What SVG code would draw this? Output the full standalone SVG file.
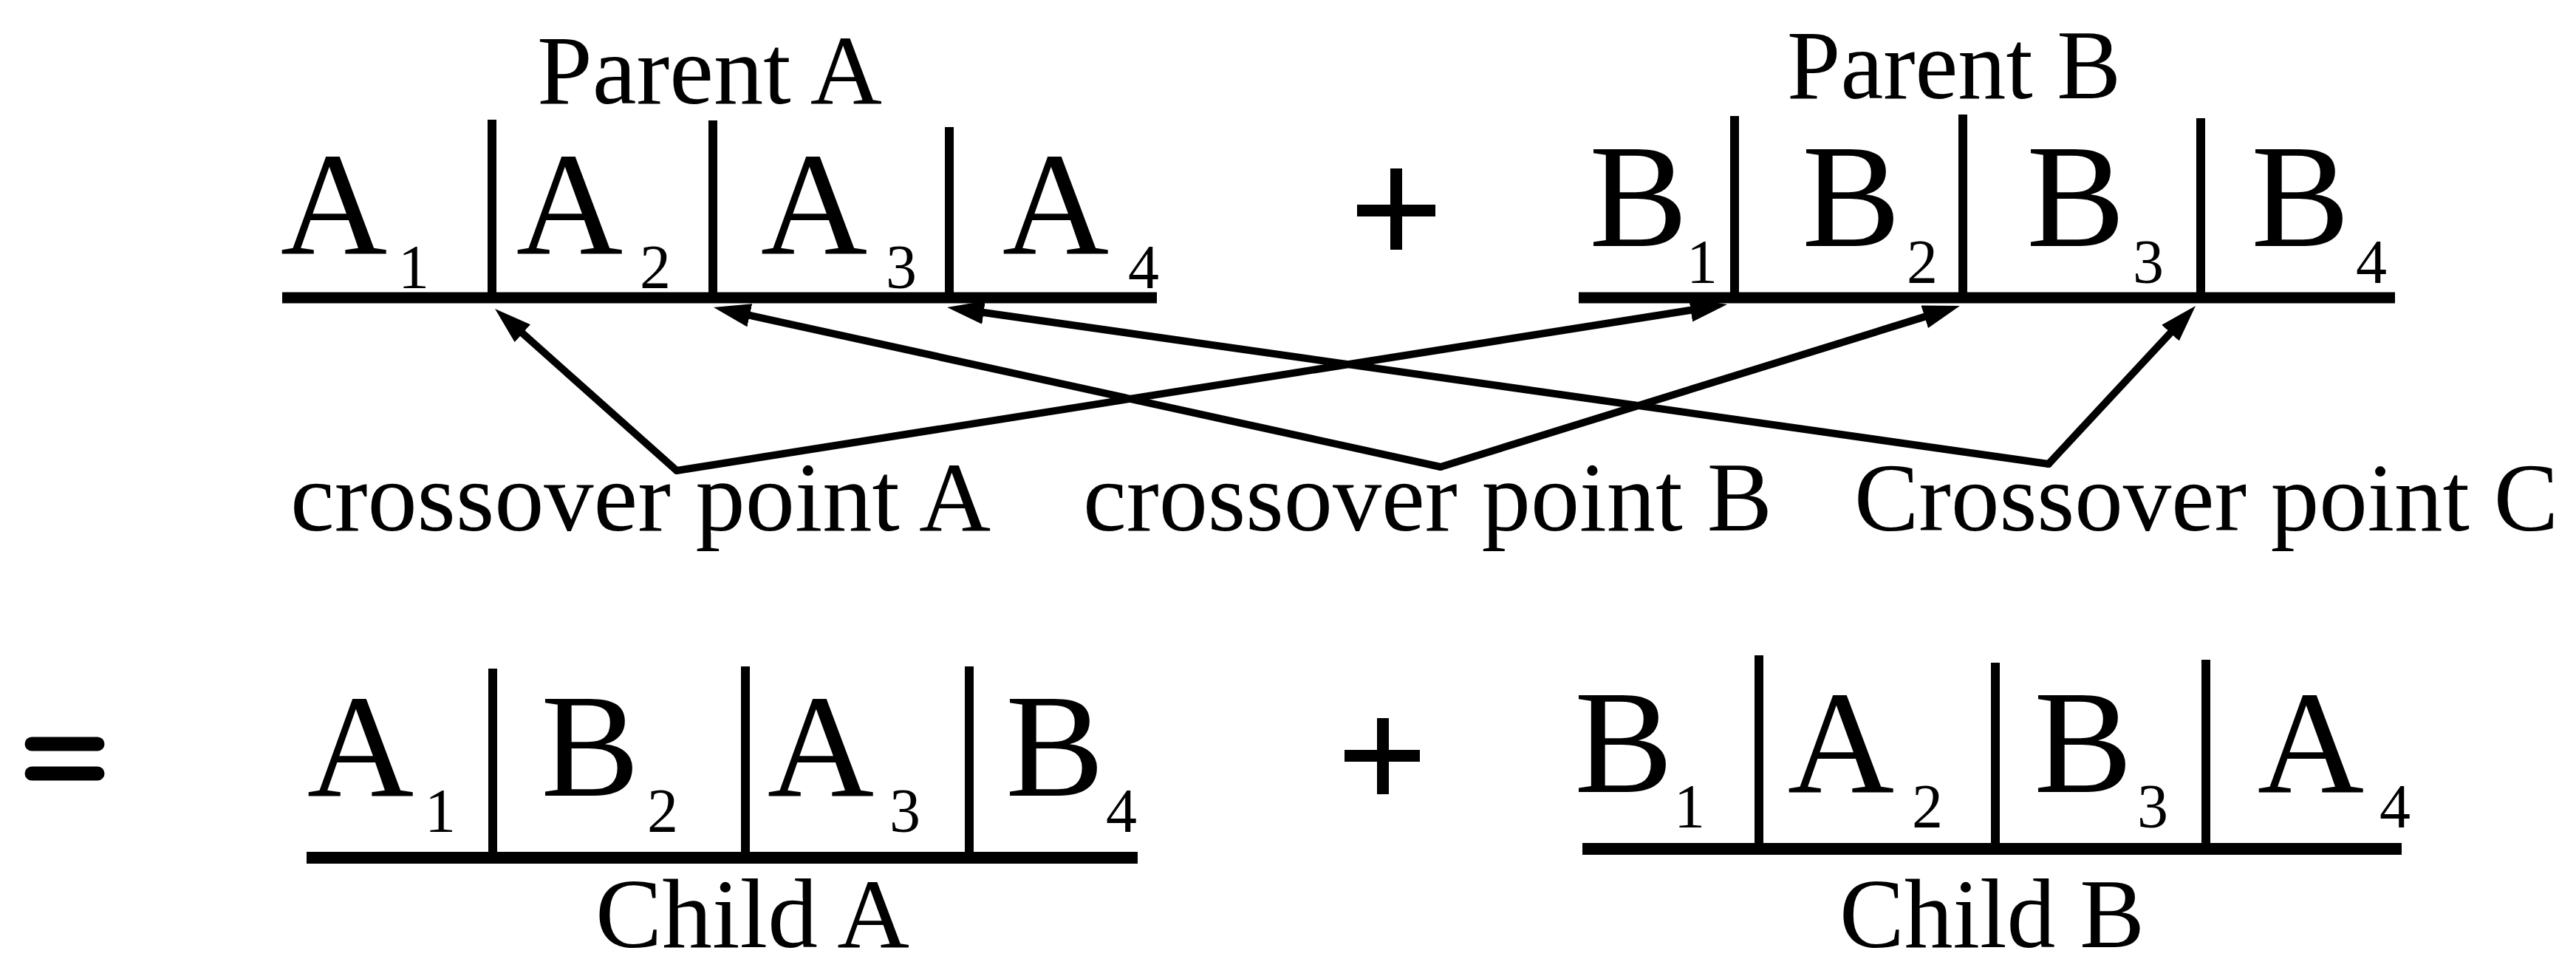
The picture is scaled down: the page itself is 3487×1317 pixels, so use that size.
<svg xmlns="http://www.w3.org/2000/svg" width="3487" height="1317" viewBox="0 0 3487 1317">
<style>
.t{font-family:"Liberation Serif","Times New Roman",serif;fill:#000}
.big{font-size:200px;text-anchor:middle}
.sub{font-size:84px;text-anchor:middle}
.lbl{font-size:134px}
.lblc{font-size:131px}
.bar{stroke:#000;stroke-width:15;fill:none}
.cbar{stroke:#000;stroke-width:16;fill:none}
.dv{stroke:#000;stroke-width:12;fill:none}
.op{stroke:#000;stroke-width:16;fill:none}
.eq{stroke:#000;stroke-width:19;fill:none;stroke-linecap:round}
.arr{stroke:#000;stroke-width:10;fill:none;stroke-linecap:round;marker-end:url(#ah)}
</style>
<defs>
<marker id="ah" viewBox="0 0 50 32" refX="25" refY="16" markerWidth="50" markerHeight="32" markerUnits="userSpaceOnUse" orient="auto">
<path d="M0,0 L50,16 L0,32 z" fill="#000"/>
</marker>
</defs>
<rect width="3487" height="1317" fill="#fff"/>

<g id="parentA">
<text class="t lbl" x="727" y="140" textLength="467" lengthAdjust="spacingAndGlyphs">Parent A</text>
<line class="bar" x1="382" y1="403" x2="1566" y2="403"/>
<line class="dv" x1="666" y1="162" x2="666" y2="403"/>
<line class="dv" x1="965" y1="163" x2="965" y2="403"/>
<line class="dv" x1="1285" y1="172" x2="1285" y2="403"/>
<text class="t big" x="452" y="343">A</text><text class="t sub" x="560" y="390">1</text>
<text class="t big" x="771" y="343">A</text><text class="t sub" x="887" y="390">2</text>
<text class="t big" x="1102" y="343">A</text><text class="t sub" x="1220" y="390">3</text>
<text class="t big" x="1429" y="343">A</text><text class="t sub" x="1548" y="390">4</text>
</g>

<g id="plusTop">
<line class="op" x1="1837" y1="285" x2="1943" y2="285"/>
<line class="op" x1="1890" y1="228" x2="1890" y2="338"/>
</g>

<g id="parentB">
<text class="t lbl" x="2419" y="133" textLength="452" lengthAdjust="spacingAndGlyphs">Parent B</text>
<line class="bar" x1="2137" y1="403" x2="3242" y2="403"/>
<line class="dv" x1="2348" y1="157" x2="2348" y2="403"/>
<line class="dv" x1="2657" y1="155" x2="2657" y2="403"/>
<line class="dv" x1="2979" y1="160" x2="2979" y2="403"/>
<text class="t big" x="2218" y="333">B</text><text class="t sub" x="2304" y="383">1</text>
<text class="t big" x="2506" y="333">B</text><text class="t sub" x="2602" y="383">2</text>
<text class="t big" x="2810" y="333">B</text><text class="t sub" x="2908" y="383">3</text>
<text class="t big" x="3114" y="333">B</text><text class="t sub" x="3210" y="383">4</text>
</g>

<g id="crossoverA">
<text class="t lbl" x="393" y="718" textLength="948" lengthAdjust="spacingAndGlyphs">crossover point A</text>
</g>
<g id="crossoverB">
<text class="t lbl" x="1466" y="718" textLength="933" lengthAdjust="spacingAndGlyphs">crossover point B</text>
</g>
<g id="crossoverC">
<text class="t lblc" x="2510" y="718" textLength="953" lengthAdjust="spacingAndGlyphs">Crossover point C</text>
</g>

<g id="connectors">
<line class="arr" x1="916" y1="637" x2="688.7" y2="434.6"/>
<line class="arr" x1="916" y1="637" x2="2313.3" y2="415.9"/>
<line class="arr" x1="1950" y1="632" x2="990.4" y2="421.4"/>
<line class="arr" x1="1950" y1="632" x2="2629.1" y2="421.4"/>
<line class="arr" x1="2773" y1="628" x2="1306.8" y2="419.5"/>
<line class="arr" x1="2773" y1="628" x2="2955.0" y2="432.3"/>
</g>

<g id="equals">
<line class="eq" x1="43" y1="1007" x2="132" y2="1007"/>
<line class="eq" x1="43" y1="1047" x2="132" y2="1047"/>
</g>

<g id="childA">
<line class="cbar" x1="415" y1="1161" x2="1540" y2="1161"/>
<line class="dv" x1="667" y1="905" x2="667" y2="1161"/>
<line class="dv" x1="1009" y1="902" x2="1009" y2="1161"/>
<line class="dv" x1="1312" y1="902" x2="1312" y2="1161"/>
<text class="t big" x="488" y="1077">A</text><text class="t sub" x="596" y="1126">1</text>
<text class="t big" x="799" y="1077">B</text><text class="t sub" x="897" y="1126">2</text>
<text class="t big" x="1111" y="1077">A</text><text class="t sub" x="1225" y="1126">3</text>
<text class="t big" x="1428" y="1077">B</text><text class="t sub" x="1518" y="1126">4</text>
<text class="t lbl" x="806" y="1282" textLength="425" lengthAdjust="spacingAndGlyphs">Child A</text>
</g>

<g id="plusBottom">
<line class="op" x1="1820" y1="1023" x2="1922" y2="1023"/>
<line class="op" x1="1872" y1="972" x2="1872" y2="1075"/>
</g>

<g id="childB">
<line class="cbar" x1="2142" y1="1149" x2="3251" y2="1149"/>
<line class="dv" x1="2381" y1="887" x2="2381" y2="1149"/>
<line class="dv" x1="2701" y1="897" x2="2701" y2="1149"/>
<line class="dv" x1="2986" y1="893" x2="2986" y2="1149"/>
<text class="t big" x="2198" y="1072">B</text><text class="t sub" x="2287" y="1120">1</text>
<text class="t big" x="2492" y="1072">A</text><text class="t sub" x="2609" y="1120">2</text>
<text class="t big" x="2820" y="1072">B</text><text class="t sub" x="2914" y="1120">3</text>
<text class="t big" x="3128" y="1072">A</text><text class="t sub" x="3242" y="1120">4</text>
<text class="t lbl" x="2490" y="1282" textLength="413" lengthAdjust="spacingAndGlyphs">Child B</text>
</g>
</svg>
